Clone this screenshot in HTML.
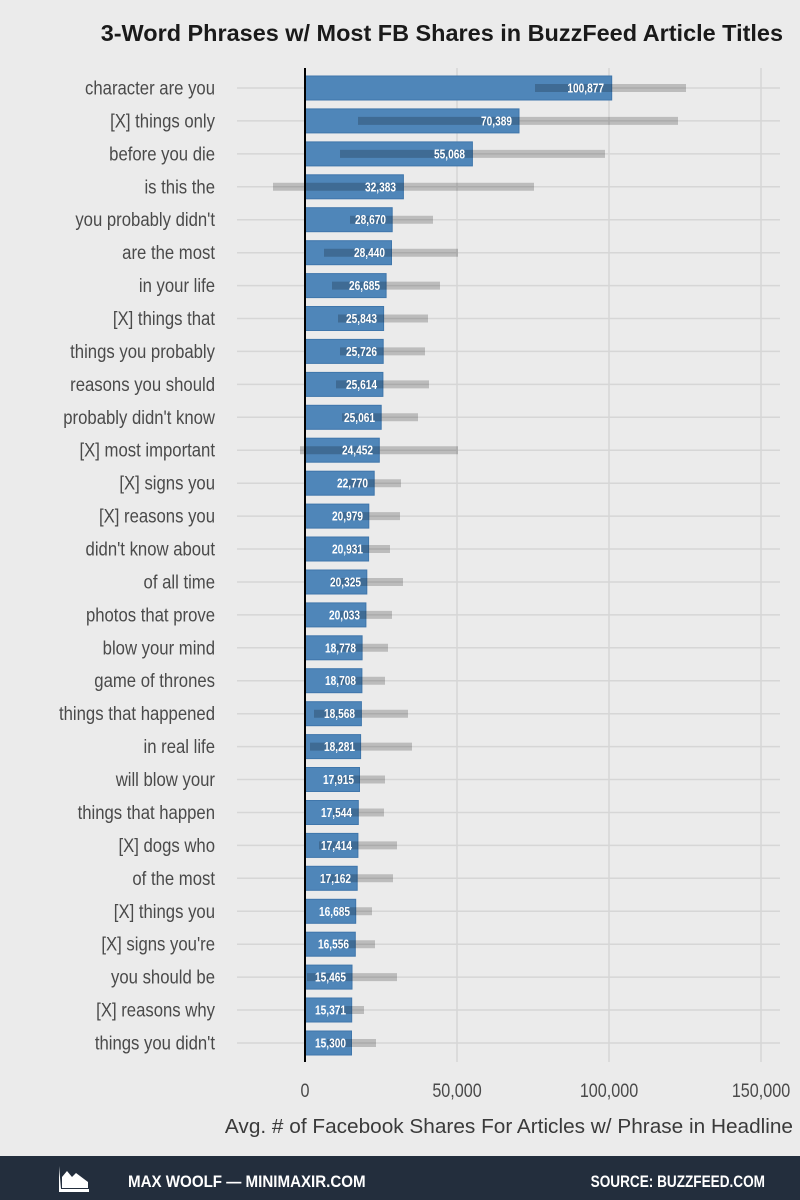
<!DOCTYPE html>
<html><head><meta charset="utf-8"><style>
html,body{margin:0;padding:0;background:#ebebeb;}
svg{display:block;font-family:"Liberation Sans",sans-serif;}
.lab{font-size:19px;fill:#4a4a4a;text-anchor:end;}
.val{font-size:13px;fill:#fff;font-weight:bold;text-anchor:end;}
.tick{font-size:19px;fill:#4a4a4a;text-anchor:middle;}
</style></head><body>
<svg width="800" height="1200" viewBox="0 0 800 1200" xmlns="http://www.w3.org/2000/svg">
<rect width="800" height="1200" fill="#ebebeb"/>
<text transform="translate(783,41) scale(1.02,1)" text-anchor="end" font-size="23" font-weight="bold" fill="#1a1a1a">3-Word Phrases w/ Most FB Shares in BuzzFeed Article Titles</text>
<g stroke="#d6d6d6" stroke-width="1.5">
<line x1="457" y1="68" x2="457" y2="1062"/><line x1="609" y1="68" x2="609" y2="1062"/><line x1="761" y1="68" x2="761" y2="1062"/>
<line x1="237" x2="780" y1="88" y2="88"/><line x1="237" x2="780" y1="120.9" y2="120.9"/><line x1="237" x2="780" y1="153.9" y2="153.9"/><line x1="237" x2="780" y1="186.8" y2="186.8"/><line x1="237" x2="780" y1="219.7" y2="219.7"/><line x1="237" x2="780" y1="252.7" y2="252.7"/><line x1="237" x2="780" y1="285.6" y2="285.6"/><line x1="237" x2="780" y1="318.5" y2="318.5"/><line x1="237" x2="780" y1="351.4" y2="351.4"/><line x1="237" x2="780" y1="384.4" y2="384.4"/><line x1="237" x2="780" y1="417.3" y2="417.3"/><line x1="237" x2="780" y1="450.2" y2="450.2"/><line x1="237" x2="780" y1="483.2" y2="483.2"/><line x1="237" x2="780" y1="516.1" y2="516.1"/><line x1="237" x2="780" y1="549" y2="549"/><line x1="237" x2="780" y1="582" y2="582"/><line x1="237" x2="780" y1="614.9" y2="614.9"/><line x1="237" x2="780" y1="647.8" y2="647.8"/><line x1="237" x2="780" y1="680.7" y2="680.7"/><line x1="237" x2="780" y1="713.7" y2="713.7"/><line x1="237" x2="780" y1="746.6" y2="746.6"/><line x1="237" x2="780" y1="779.5" y2="779.5"/><line x1="237" x2="780" y1="812.5" y2="812.5"/><line x1="237" x2="780" y1="845.4" y2="845.4"/><line x1="237" x2="780" y1="878.3" y2="878.3"/><line x1="237" x2="780" y1="911.3" y2="911.3"/><line x1="237" x2="780" y1="944.2" y2="944.2"/><line x1="237" x2="780" y1="977.1" y2="977.1"/><line x1="237" x2="780" y1="1010" y2="1010"/><line x1="237" x2="780" y1="1043" y2="1043"/>
</g>
<g fill="#4f86b9" stroke="#3f76ab" stroke-width="1">
<rect x="305" y="76" width="306.7" height="24"/><rect x="305" y="108.9" width="214" height="24"/><rect x="305" y="141.9" width="167.4" height="24"/><rect x="305" y="174.8" width="98.4" height="24"/><rect x="305" y="207.7" width="87.2" height="24"/><rect x="305" y="240.7" width="86.5" height="24"/><rect x="305" y="273.6" width="81.1" height="24"/><rect x="305" y="306.5" width="78.6" height="24"/><rect x="305" y="339.4" width="78.2" height="24"/><rect x="305" y="372.4" width="77.9" height="24"/><rect x="305" y="405.3" width="76.2" height="24"/><rect x="305" y="438.2" width="74.3" height="24"/><rect x="305" y="471.2" width="69.2" height="24"/><rect x="305" y="504.1" width="63.8" height="24"/><rect x="305" y="537" width="63.6" height="24"/><rect x="305" y="570" width="61.8" height="24"/><rect x="305" y="602.9" width="60.9" height="24"/><rect x="305" y="635.8" width="57.1" height="24"/><rect x="305" y="668.7" width="56.9" height="24"/><rect x="305" y="701.7" width="56.4" height="24"/><rect x="305" y="734.6" width="55.6" height="24"/><rect x="305" y="767.5" width="54.5" height="24"/><rect x="305" y="800.5" width="53.3" height="24"/><rect x="305" y="833.4" width="52.9" height="24"/><rect x="305" y="866.3" width="52.2" height="24"/><rect x="305" y="899.3" width="50.7" height="24"/><rect x="305" y="932.2" width="50.3" height="24"/><rect x="305" y="965.1" width="47" height="24"/><rect x="305" y="998" width="46.7" height="24"/><rect x="305" y="1031" width="46.5" height="24"/>
</g>
<g stroke="rgba(0,0,0,0.2)" stroke-width="8">
<line x1="535" x2="686" y1="88" y2="88"/><line x1="358" x2="678" y1="120.9" y2="120.9"/><line x1="340" x2="605" y1="153.9" y2="153.9"/><line x1="273" x2="534" y1="186.8" y2="186.8"/><line x1="350" x2="433" y1="219.7" y2="219.7"/><line x1="324" x2="458" y1="252.7" y2="252.7"/><line x1="332" x2="440" y1="285.6" y2="285.6"/><line x1="338" x2="428" y1="318.5" y2="318.5"/><line x1="340" x2="425" y1="351.4" y2="351.4"/><line x1="336" x2="429" y1="384.4" y2="384.4"/><line x1="342" x2="418" y1="417.3" y2="417.3"/><line x1="300" x2="458" y1="450.2" y2="450.2"/><line x1="347" x2="401" y1="483.2" y2="483.2"/><line x1="338" x2="400" y1="516.1" y2="516.1"/><line x1="347" x2="390" y1="549" y2="549"/><line x1="331" x2="403" y1="582" y2="582"/><line x1="340" x2="392" y1="614.9" y2="614.9"/><line x1="336" x2="388" y1="647.8" y2="647.8"/><line x1="338" x2="385" y1="680.7" y2="680.7"/><line x1="314" x2="408" y1="713.7" y2="713.7"/><line x1="310" x2="412" y1="746.6" y2="746.6"/><line x1="334" x2="385" y1="779.5" y2="779.5"/><line x1="333" x2="384" y1="812.5" y2="812.5"/><line x1="319" x2="397" y1="845.4" y2="845.4"/><line x1="321" x2="393" y1="878.3" y2="878.3"/><line x1="339" x2="372" y1="911.3" y2="911.3"/><line x1="336" x2="375" y1="944.2" y2="944.2"/><line x1="307" x2="397" y1="977.1" y2="977.1"/><line x1="339" x2="364" y1="1010" y2="1010"/><line x1="327" x2="376" y1="1043" y2="1043"/>
</g>
<line x1="305" y1="68" x2="305" y2="1062" stroke="#000" stroke-width="2"/>
<g class="val">
<text transform="translate(604,92.5) scale(0.78,1)">100,877</text><text transform="translate(512,125.4) scale(0.78,1)">70,389</text><text transform="translate(465,158.4) scale(0.78,1)">55,068</text><text transform="translate(396,191.3) scale(0.78,1)">32,383</text><text transform="translate(386,224.2) scale(0.78,1)">28,670</text><text transform="translate(385,257.2) scale(0.78,1)">28,440</text><text transform="translate(380,290.1) scale(0.78,1)">26,685</text><text transform="translate(377,323) scale(0.78,1)">25,843</text><text transform="translate(377,355.9) scale(0.78,1)">25,726</text><text transform="translate(377,388.9) scale(0.78,1)">25,614</text><text transform="translate(375,421.8) scale(0.78,1)">25,061</text><text transform="translate(373,454.7) scale(0.78,1)">24,452</text><text transform="translate(368,487.7) scale(0.78,1)">22,770</text><text transform="translate(363,520.6) scale(0.78,1)">20,979</text><text transform="translate(363,553.5) scale(0.78,1)">20,931</text><text transform="translate(361,586.5) scale(0.78,1)">20,325</text><text transform="translate(360,619.4) scale(0.78,1)">20,033</text><text transform="translate(356,652.3) scale(0.78,1)">18,778</text><text transform="translate(356,685.2) scale(0.78,1)">18,708</text><text transform="translate(355,718.2) scale(0.78,1)">18,568</text><text transform="translate(355,751.1) scale(0.78,1)">18,281</text><text transform="translate(354,784) scale(0.78,1)">17,915</text><text transform="translate(352,817) scale(0.78,1)">17,544</text><text transform="translate(352,849.9) scale(0.78,1)">17,414</text><text transform="translate(351,882.8) scale(0.78,1)">17,162</text><text transform="translate(350,915.8) scale(0.78,1)">16,685</text><text transform="translate(349,948.7) scale(0.78,1)">16,556</text><text transform="translate(346,981.6) scale(0.78,1)">15,465</text><text transform="translate(346,1014.5) scale(0.78,1)">15,371</text><text transform="translate(346,1047.5) scale(0.78,1)">15,300</text>
</g>
<g class="lab">
<text transform="translate(215,94.5) scale(0.88,1)">character are you</text><text transform="translate(215,127.4) scale(0.88,1)">[X] things only</text><text transform="translate(215,160.4) scale(0.88,1)">before you die</text><text transform="translate(215,193.3) scale(0.88,1)">is this the</text><text transform="translate(215,226.2) scale(0.88,1)">you probably didn't</text><text transform="translate(215,259.2) scale(0.88,1)">are the most</text><text transform="translate(215,292.1) scale(0.88,1)">in your life</text><text transform="translate(215,325) scale(0.88,1)">[X] things that</text><text transform="translate(215,357.9) scale(0.88,1)">things you probably</text><text transform="translate(215,390.9) scale(0.88,1)">reasons you should</text><text transform="translate(215,423.8) scale(0.88,1)">probably didn't know</text><text transform="translate(215,456.7) scale(0.88,1)">[X] most important</text><text transform="translate(215,489.7) scale(0.88,1)">[X] signs you</text><text transform="translate(215,522.6) scale(0.88,1)">[X] reasons you</text><text transform="translate(215,555.5) scale(0.88,1)">didn't know about</text><text transform="translate(215,588.5) scale(0.88,1)">of all time</text><text transform="translate(215,621.4) scale(0.88,1)">photos that prove</text><text transform="translate(215,654.3) scale(0.88,1)">blow your mind</text><text transform="translate(215,687.2) scale(0.88,1)">game of thrones</text><text transform="translate(215,720.2) scale(0.88,1)">things that happened</text><text transform="translate(215,753.1) scale(0.88,1)">in real life</text><text transform="translate(215,786) scale(0.88,1)">will blow your</text><text transform="translate(215,819) scale(0.88,1)">things that happen</text><text transform="translate(215,851.9) scale(0.88,1)">[X] dogs who</text><text transform="translate(215,884.8) scale(0.88,1)">of the most</text><text transform="translate(215,917.8) scale(0.88,1)">[X] things you</text><text transform="translate(215,950.7) scale(0.88,1)">[X] signs you're</text><text transform="translate(215,983.6) scale(0.88,1)">you should be</text><text transform="translate(215,1016.5) scale(0.88,1)">[X] reasons why</text><text transform="translate(215,1049.5) scale(0.88,1)">things you didn't</text>
</g>
<g class="tick">
<text transform="translate(305,1097) scale(0.85,1)">0</text><text transform="translate(457,1097) scale(0.85,1)">50,000</text><text transform="translate(609,1097) scale(0.85,1)">100,000</text><text transform="translate(761,1097) scale(0.85,1)">150,000</text>
</g>
<text transform="translate(793,1133) scale(1.04,1)" text-anchor="end" font-size="20" fill="#3a3a3a">Avg. # of Facebook Shares For Articles w/ Phrase in Headline</text>
<rect x="0" y="1156" width="800" height="44" fill="#232e3d"/>
<g fill="#fff">
<path d="M59 1166 L59 1192 L89 1192 L89 1189 L61 1189 Z"/>
<path d="M62 1188 L62 1177 L67 1171 L72 1177 L76 1173 L88 1182 L88 1188 Z"/>
</g>
<text transform="translate(128,1187) scale(0.89,1)" font-size="17" font-weight="bold" fill="#fff">MAX WOOLF — MINIMAXIR.COM</text>
<text transform="translate(765,1187) scale(0.8,1)" text-anchor="end" font-size="17" font-weight="bold" fill="#fff">SOURCE: BUZZFEED.COM</text>
</svg>
</body></html>
